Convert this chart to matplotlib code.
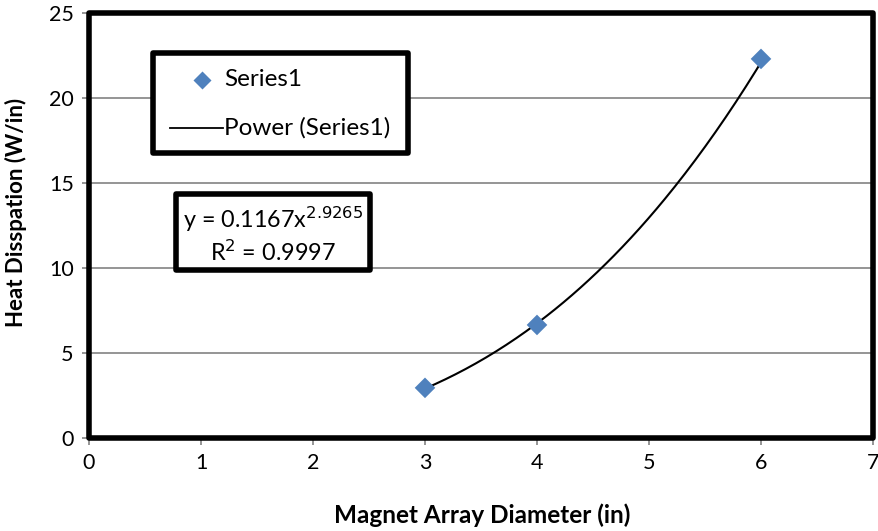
import numpy as np
import matplotlib
matplotlib.use("Agg")
import matplotlib.pyplot as plt
from matplotlib.patches import Rectangle
from matplotlib.lines import Line2D

plt.rcParams['font.family'] = ['Lato', 'DejaVu Sans']

# Measured data
diameter = [3, 4, 6]
heat = [2.95, 6.65, 22.3]

# Power-law trendline coefficients
coef_a = 0.1167
coef_b = 2.9265
r_squared = 0.9997

x_ticks = [0, 1, 2, 3, 4, 5, 6, 7]
y_ticks = [0, 5, 10, 15, 20, 25]

W, H = 879, 531
fig = plt.figure(figsize=(W / 100, H / 100), dpi=100)


def px(x, y):
    """Pixel position (from top-left) to figure fraction."""
    return x / W, 1 - y / H


ax = fig.add_axes([89 / W, 1 - 438 / H, 784 / W, 425 / H])

ax.set_xlim(0, 7)
ax.set_ylim(0, 25)
ax.set_xticks(x_ticks)
ax.set_yticks(y_ticks)
ax.tick_params(axis='both', direction='out', length=5, width=1.3, color='#8c8c8c',
               labelsize=15.5, pad=6)

ax.grid(axis='y', color='#8c8c8c', linewidth=1.3)
ax.set_axisbelow(True)
for side in ['top', 'right']:
    ax.spines[side].set_visible(False)
for side in ['left', 'bottom']:
    ax.spines[side].set_color('#8c8c8c')
    ax.spines[side].set_linewidth(1.5)

# Thick plot-area frame
ax.add_patch(Rectangle((0, 0), 1, 1, transform=ax.transAxes, fill=False,
                       edgecolor='black', linewidth=4, zorder=5, clip_on=False,
                       joinstyle='round'))

# Trendline
xs = np.linspace(diameter[0], diameter[-1], 200)
ax.plot(xs, coef_a * xs ** coef_b, color='black', linewidth=1.5, zorder=3)

# Data points
ax.scatter(diameter, heat, marker='D', s=110, color='#4f81bd', zorder=4,
           edgecolors='none')

fig.text(*px(482, 515), 'Magnet Array Diameter (in)', fontsize=17.5,
         fontweight='bold', ha='center', va='center')
fig.text(*px(16, 212), 'Heat Disspation (W/in)', fontsize=16,
         fontweight='bold', ha='center', va='center', rotation=90)

# Legend box
x0, y0 = px(153, 153)
x1, y1 = px(408, 53)
fig.add_artist(Rectangle((x0, y0), x1 - x0, y1 - y0, transform=fig.transFigure,
                         facecolor='white', edgecolor='black', linewidth=4,
                         zorder=6, joinstyle='round'))
fig.add_artist(Line2D([px(202, 80)[0]], [px(202, 80)[1]], marker='D', markersize=9.5,
                      color='#4f81bd', markeredgecolor='none', linestyle='none',
                      transform=fig.transFigure, zorder=7))
fig.text(*px(224, 80), 'Series1', fontsize=17.5, ha='left', va='center', zorder=7)
fig.add_artist(Line2D([px(170, 128)[0], px(223, 128)[0]], [px(170, 128)[1]] * 2,
                      color='black', linewidth=1.3, transform=fig.transFigure, zorder=7))
fig.text(*px(224, 128), 'Power (Series1)', fontsize=17.5, ha='left', va='center',
         zorder=7)

# Trendline equation box
x0, y0 = px(176, 270)
x1, y1 = px(370, 194)
fig.add_artist(Rectangle((x0, y0), x1 - x0, y1 - y0, transform=fig.transFigure,
                         facecolor='white', edgecolor='black', linewidth=4,
                         zorder=6, joinstyle='round'))
fig.text(*px(273, 219), 'y = {:.4f}x$^{{{:.4f}}}$'.format(coef_a, coef_b),
         fontsize=16.8, ha='center', va='center', zorder=7)
fig.text(*px(273, 252), 'R$^{{2}}$ = {:.4f}'.format(r_squared),
         fontsize=16.8, ha='center', va='center', zorder=7)

fig.savefig('out.png', dpi=100)
